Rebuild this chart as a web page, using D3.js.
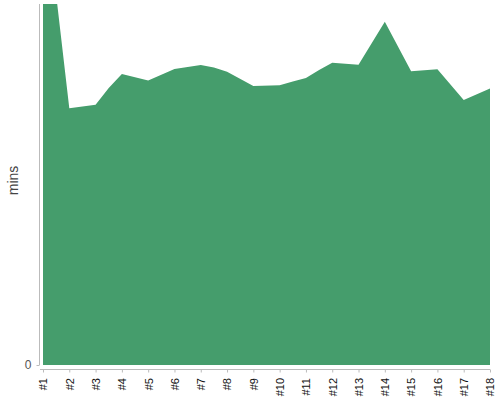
<!DOCTYPE html>
<html><head><meta charset="utf-8">
<script src="https://cdn.jsdelivr.net/npm/d3@7"></script>
<style>body{margin:0;background:#fff}svg{display:block}</style>
</head><body>
<script>
const categories = ["#1","#2","#3","#4","#5","#6","#7","#8","#9","#10","#11","#12","#13","#14","#15","#16","#17","#18"];
const positions = [1,2,3,3.5,4,5,6,7,7.5,8,9,10,10.5,11,11.5,12,13,14,15,16,17,18];
const minutes  = [134,71.1,72.1,76.7,80.6,78.8,82.0,83.1,82.4,81.2,77.3,77.5,78.5,79.5,81.7,83.7,83.2,95.1,81.4,81.9,73.4,76.6];
const yTicks = [0];

const W = 500, H = 400;
const FONT = "'Liberation Sans', Arial, sans-serif";
const svg = d3.select("body").append("svg").attr("width", W).attr("height", H);
const x = d3.scaleLinear().domain([1, 18]).range([43, 490]);
const y = d3.scaleLinear().domain([0, 100]).range([365, 4]);

svg.append("clipPath").attr("id","clip").append("rect")
  .attr("x", 40).attr("y", 4).attr("width", 452).attr("height", 362);

const pts = positions.map((p,i)=>({p, v: minutes[i]}));
svg.append("path").datum(pts)
  .attr("clip-path","url(#clip)")
  .attr("fill","#459d6c")
  .attr("d", d3.area().x(d=>x(d.p)).y0(y(0)).y1(d=>y(d.v)));

// y axis
const ya = svg.append("g").attr("transform","translate(39.5,0)")
  .call(d3.axisLeft(y).tickValues(yTicks).tickSize(3).tickPadding(5));
ya.select(".domain").attr("d","M0,4V365").attr("stroke","#bbb");
ya.selectAll(".tick line").attr("stroke","#bbb");
ya.selectAll("text").style("font-family",FONT).style("font-size","12px").attr("fill","#555");

// x axis
const xa = svg.append("g").attr("transform","translate(0,369.5)")
  .call(d3.axisBottom(x).tickValues(d3.range(1,19)).tickFormat(d=>categories[d-1]).tickSize(3));
xa.select(".domain").attr("d","M40,0H490").attr("stroke","#bbb");
xa.selectAll(".tick line").attr("stroke","#bbb");
xa.selectAll("text")
  .style("font-family",FONT).style("font-size","11px").attr("fill","#111")
  .attr("transform","rotate(-90)").attr("text-anchor","end")
  .attr("x",-8.5).attr("y",0).attr("dy","0.35em");

svg.append("text").attr("transform","translate(13,180.5) rotate(-90)")
  .attr("text-anchor","middle").attr("dy","0.35em")
  .style("font-family",FONT).style("font-size","14px")
  .attr("fill","#444").text("mins");
</script>
</body></html>
